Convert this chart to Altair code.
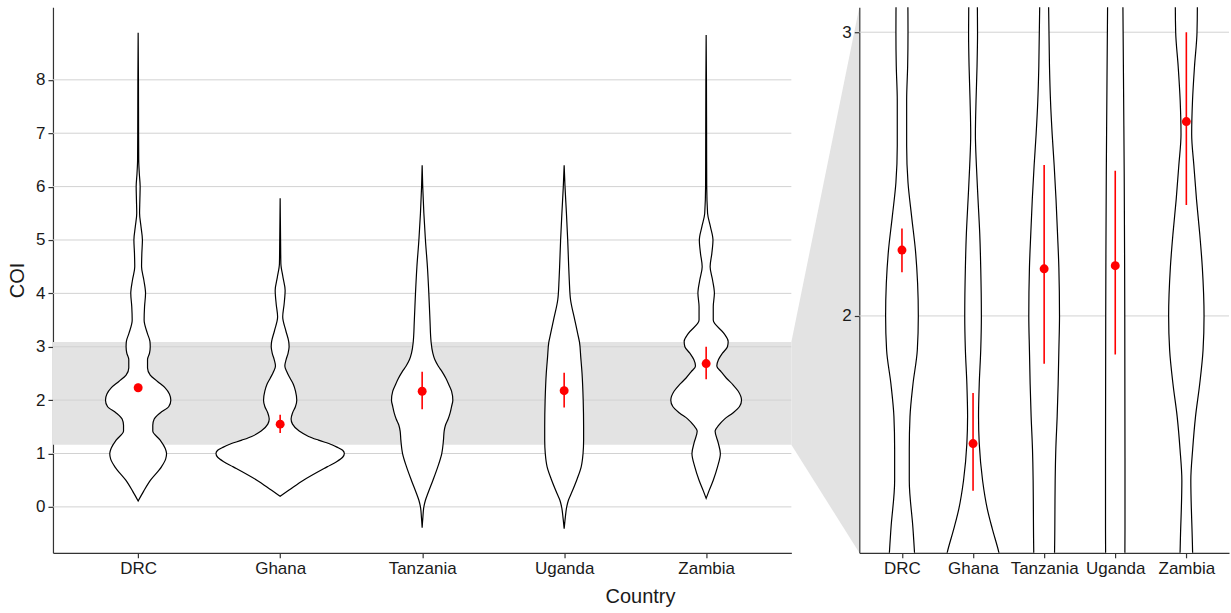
import altair as alt
import pandas as pd

# Country order along the x axis
COUNTRIES = ["DRC", "Ghana", "Tanzania", "Uganda", "Zambia"]

# Mean COI per country and its interval
MEAN_COI = [2.232, 1.550, 2.166, 2.177, 2.685]
CI_LOW = [2.154, 1.384, 1.831, 1.864, 2.391]
CI_HIGH = [2.308, 1.728, 2.532, 2.512, 3.000]

# Violin outlines: COI level and half-width (in category units)
DRC_COI = [0.11, 0.3, 0.5, 0.75, 0.9, 1.0, 1.1, 1.25, 1.42, 1.53, 1.645, 1.76, 1.88, 2.0, 2.115,
           2.23, 2.35, 2.47, 2.6, 2.76, 2.88, 3.0, 3.1, 3.25, 3.5, 3.75, 4.0, 4.25, 4.5, 4.75,
           5.0, 5.25, 5.5, 5.75, 6.0, 6.25, 6.5, 7.0, 8.0, 8.88]
DRC_HALF = [0.0, 0.04, 0.087, 0.164, 0.194, 0.2, 0.19, 0.155, 0.103, 0.103, 0.113, 0.155, 0.216,
            0.23, 0.22, 0.19, 0.136, 0.085, 0.066, 0.066, 0.08, 0.085, 0.083, 0.065, 0.042,
            0.045, 0.052, 0.04, 0.024, 0.026, 0.03, 0.02, 0.01, 0.012, 0.014, 0.008, 0.004,
            0.003, 0.002, 0.0]

GHANA_COI = [0.2, 0.31, 0.5, 0.75, 0.85, 0.93, 1.0, 1.06, 1.12, 1.165, 1.25, 1.32, 1.42, 1.55,
             1.645, 1.76, 1.88, 2.0, 2.17, 2.29, 2.41, 2.53, 2.64, 2.76, 2.88, 3.0, 3.1, 3.3,
             3.56, 3.8, 4.06, 4.3, 4.56, 5.0, 5.78]
GHANA_HALF = [0.0, 0.06, 0.164, 0.33, 0.4, 0.44, 0.452, 0.44, 0.4, 0.364, 0.27, 0.2, 0.134,
              0.087, 0.077, 0.087, 0.108, 0.117, 0.108, 0.094, 0.07, 0.047, 0.033, 0.042,
              0.056, 0.063, 0.06, 0.04, 0.018, 0.028, 0.035, 0.02, 0.005, 0.003, 0.0]

TANZANIA_COI = [-0.39, -0.2, 0.0, 0.125, 0.25, 0.5, 0.75, 1.0, 1.25, 1.42, 1.53, 1.645, 1.76, 1.88,
                2.0, 2.17, 2.29, 2.41, 2.53, 2.64, 2.76, 2.88, 3.085, 3.5, 4.0, 4.5, 5.0, 5.5, 6.0,
                6.4]
TANZANIA_HALF = [0.0, 0.005, 0.012, 0.023, 0.04, 0.076, 0.11, 0.138, 0.15, 0.155, 0.164, 0.183,
                 0.197, 0.207, 0.216, 0.207, 0.188, 0.167, 0.141, 0.113, 0.089, 0.075, 0.063, 0.055,
                 0.047, 0.037, 0.023, 0.012, 0.004, 0.0]

UGANDA_COI = [-0.41, -0.2, 0.0, 0.125, 0.25, 0.5, 0.75, 1.0, 1.25, 1.5, 2.0, 2.5, 2.8, 3.085,
              3.25, 3.5, 3.88, 4.25, 4.5, 5.0, 5.5, 6.0, 6.4]
UGANDA_HALF = [0.0, 0.008, 0.018, 0.03, 0.05, 0.088, 0.12, 0.133, 0.137, 0.137, 0.134, 0.126,
               0.117, 0.108, 0.095, 0.075, 0.045, 0.036, 0.032, 0.025, 0.016, 0.006, 0.0]

ZAMBIA_COI = [0.16, 0.3, 0.5, 0.75, 1.0, 1.2, 1.42, 1.53, 1.645, 1.76, 1.88, 2.0, 2.17, 2.29, 2.41,
              2.53, 2.64, 2.76, 2.88, 3.0, 3.1, 3.25, 3.5, 3.75, 4.0, 4.25, 4.5, 4.75, 5.0, 5.25,
              5.5, 6.0, 7.0, 8.0, 8.84]
ZAMBIA_HALF = [0.0, 0.02, 0.05, 0.08, 0.1, 0.085, 0.063, 0.089, 0.129, 0.188, 0.235, 0.249, 0.225,
               0.188, 0.143, 0.106, 0.075, 0.087, 0.115, 0.15, 0.155, 0.125, 0.05, 0.05, 0.058,
               0.045, 0.028, 0.04, 0.048, 0.03, 0.01, 0.004, 0.003, 0.002, 0.0]

# Axis ranges and ticks
X_DOMAIN = [0.4, 5.6]
FULL_RANGE = [-0.86, 9.36]
ZOOM_RANGE = [1.165, 3.088]
FULL_TICKS = [0, 1, 2, 3, 4, 5, 6, 7, 8]
ZOOM_TICKS = [2, 3]

FONT = "Liberation Sans"
TEXT = "#1a1a1a"
LINE = "#333333"
GRID = "#d2d2d2"
SHADE = "#e3e3e3"

profiles = {
    "DRC": (DRC_COI, DRC_HALF),
    "Ghana": (GHANA_COI, GHANA_HALF),
    "Tanzania": (TANZANIA_COI, TANZANIA_HALF),
    "Uganda": (UGANDA_COI, UGANDA_HALF),
    "Zambia": (ZAMBIA_COI, ZAMBIA_HALF),
}
rows = []
for pos, country in enumerate(COUNTRIES, start=1):
    coi, half = profiles[country]
    for v, h in zip(coi, half):
        rows.append({"country": country, "pos": pos, "COI": v, "half": h})
violin_df = pd.DataFrame(rows)

summary_df = pd.DataFrame({
    "country": COUNTRIES,
    "pos": list(range(1, len(COUNTRIES) + 1)),
    "mean": MEAN_COI,
    "lo": CI_LOW,
    "hi": CI_HIGH,
})

label_expr = "[" + ",".join(f"'{c}'" for c in COUNTRIES) + "][datum.value - 1]"

x_scale = alt.Scale(domain=X_DOMAIN, nice=False, zero=False)
x_axis = alt.Axis(values=list(range(1, len(COUNTRIES) + 1)), labelExpr=label_expr, title=None,
                  grid=False, tickSize=5, labelPadding=3, labelOverlap=False)


def panel(y_range, y_ticks, y_title):
    clip = y_title is None
    y_scale = alt.Scale(domain=y_range, nice=False, zero=False)
    y_axis = alt.Axis(values=y_ticks, title=y_title, grid=False, tickSize=5, labelPadding=3,
                      format="d", titlePadding=8)

    grid = alt.Chart(pd.DataFrame({"tick": y_ticks})).mark_rule(
        color=GRID, strokeWidth=1
    ).encode(y=alt.Y("tick:Q", scale=y_scale, axis=y_axis))

    violins = alt.Chart(violin_df).transform_calculate(
        left="datum.pos - datum.half", right="datum.pos + datum.half"
    ).mark_area(
        orient="horizontal", interpolate="monotone", fill="white", stroke="black",
        strokeWidth=1.2, clip=clip
    ).encode(
        y=alt.Y("COI:Q", scale=y_scale, axis=y_axis),
        x=alt.X("left:Q", scale=x_scale, axis=x_axis, stack=False),
        x2="right:Q",
        detail="country:N",
    )

    bars = alt.Chart(summary_df).mark_rule(color="red", strokeWidth=1.6, clip=clip).encode(
        x=alt.X("pos:Q", scale=x_scale, axis=x_axis),
        y=alt.Y("lo:Q", scale=y_scale, axis=y_axis),
        y2="hi:Q",
    )
    dots = alt.Chart(summary_df).mark_circle(color="red", opacity=1, size=80, clip=clip).encode(
        x=alt.X("pos:Q", scale=x_scale, axis=x_axis),
        y=alt.Y("mean:Q", scale=y_scale, axis=y_axis),
    )
    return [grid, violins, bars, dots], y_scale, y_axis


# Full-range panel with the shaded zoom window
full_layers, full_y, full_axis = panel(FULL_RANGE, FULL_TICKS, "COI")
band = alt.Chart(pd.DataFrame({"x0": [X_DOMAIN[0]], "x1": [X_DOMAIN[1]],
                               "y0": [ZOOM_RANGE[0]], "y1": [ZOOM_RANGE[1]]})).mark_rect(
    color=SHADE
).encode(
    x=alt.X("x0:Q", scale=x_scale, axis=x_axis), x2="x1:Q",
    y=alt.Y("y0:Q", scale=full_y, axis=full_axis), y2="y1:Q",
)
left = alt.layer(band, *full_layers).properties(width=739, height=546)

# Connector from the shaded window to the zoomed panel
connector_df = pd.DataFrame({
    "side": [0, 1],
    "low": [ZOOM_RANGE[0], FULL_RANGE[0]],
    "high": [ZOOM_RANGE[1], FULL_RANGE[1]],
})
middle = alt.Chart(connector_df).mark_area(color=SHADE, interpolate="linear").encode(
    x=alt.X("side:Q", scale=alt.Scale(domain=[0, 1], nice=False, zero=False), axis=None),
    y=alt.Y("low:Q", scale=alt.Scale(domain=FULL_RANGE, nice=False, zero=False), axis=None,
            stack=False),
    y2="high:Q",
).properties(width=68, height=546)

# Zoomed panel
zoom_layers, _, _ = panel(ZOOM_RANGE, ZOOM_TICKS, None)
right = alt.layer(*zoom_layers).properties(width=370, height=546)

chart = alt.hconcat(left, middle, right, spacing=0, bounds="flush").properties(
    padding={"left": 7, "top": 7, "right": 1, "bottom": 2},
    title=alt.TitleParams(text="Country", orient="bottom", anchor="middle", font=FONT,
                          fontSize=20, fontWeight="normal", color=TEXT, offset=10, dx=22),
).configure_view(
    stroke=None
).configure_axis(
    labelFont=FONT, labelFontSize=17, labelColor=TEXT,
    titleFont=FONT, titleFontSize=20, titleFontWeight="normal", titleColor=TEXT,
    domainColor=LINE, domainWidth=1.2, tickColor=LINE, tickWidth=1.2,
)

chart.save("out.html", embed_options={"renderer": "svg", "actions": False})
